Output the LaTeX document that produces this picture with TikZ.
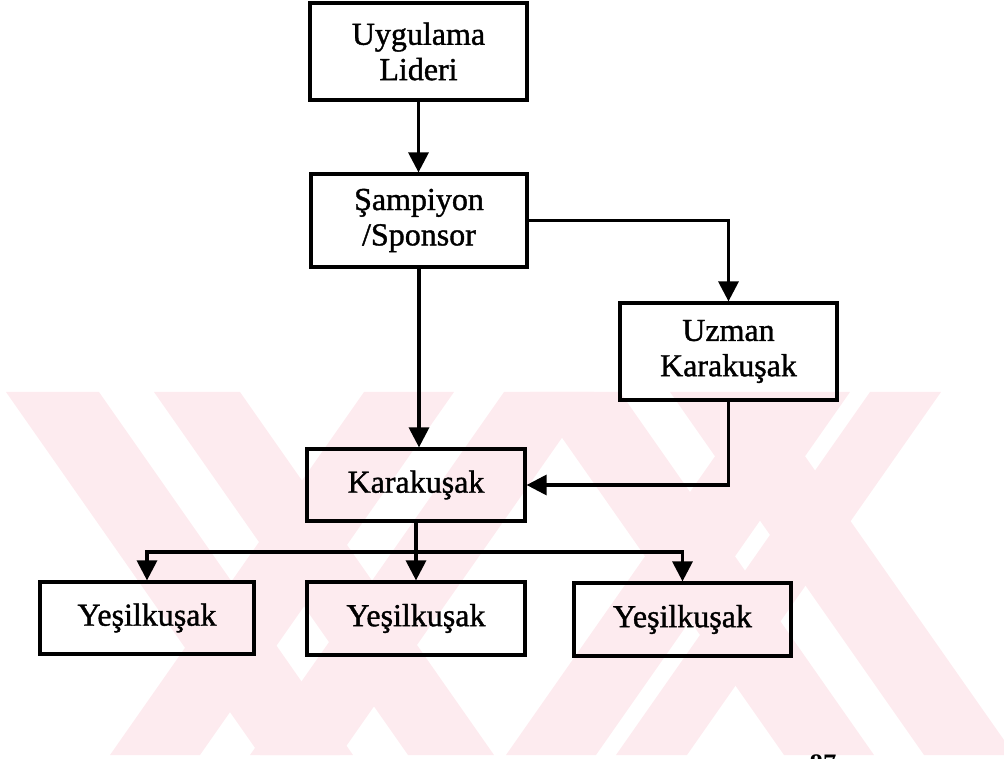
\documentclass[tikz,border=0pt]{standalone}
\usepackage{fontspec}
\setmainfont{Liberation Serif}
\newfontfamily\chartfont{Liberation Serif}[FakeBold=1.2]
\usetikzlibrary{arrows.meta}

\definecolor{wmpink}{RGB}{253,235,239}

\tikzset{
  box/.style={draw=black, line width=2.4pt, align=center, inner sep=0pt,
    font=\chartfont\fontsize{24}{26.5}\selectfont},
  link/.style={draw=black, line width=2.4pt, -{Triangle[length=15pt,width=15pt]}},
  band/.style={fill=wmpink, draw=none}
}

\begin{document}
\begin{tikzpicture}[x=0.75pt,y=-0.75pt]
\useasboundingbox (0,0) rectangle (1004,759);

% background emblem: two crossed pairs of diagonal bands
\fill[band] (6,392) -- (99,392) -- (353,755) -- (260,755) -- cycle;
\fill[band] (154,392) -- (240,392) -- (494,755) -- (408,755) -- cycle;
\fill[band] (364,392) -- (454,392) -- (200,755) -- (110,755) -- cycle;
\fill[band] (504,392) -- (594,392) -- (340,755) -- (250,755) -- cycle;
\fill[band] (530,392) -- (620,392) -- (874,755) -- (784,755) -- cycle;
\fill[band] (670,392) -- (760,392) -- (1004,740) -- (1004,755) -- (924,755) -- cycle;
\fill[band] (760,392) -- (850,392) -- (596,755) -- (506,755) -- cycle;
\fill[band] (870,392) -- (941,392) -- (687,755) -- (616,755) -- cycle;

% organisation chart
\node[box, minimum width=162.75pt, minimum height=72.75pt] (lead) at (418.5,51.5) {Uygulama\\Lideri};
\node[box, minimum width=162pt, minimum height=69.75pt] (champ) at (419,220.5) {Şampiyon\\/Sponsor};
\node[box, minimum width=162.75pt, minimum height=72.75pt] (expert) at (728.5,351.5) {Uzman\\Karakuşak};
\node[box, minimum width=163.5pt, minimum height=54pt] (black) at (416,485) {Karakuşak};
\node[box, minimum width=160.5pt, minimum height=54pt] (green1) at (147,618) {Yeşilkuşak};
\node[box, minimum width=163.5pt, minimum height=54.75pt] (green2) at (416,618.5) {Yeşilkuşak};
\node[box, minimum width=162.75pt, minimum height=54.75pt] (green3) at (682.5,619.5) {Yeşilkuşak};

\coordinate (bus) at (416,552);

\draw[link] (lead.south) -- (lead.south |- champ.north);
\draw[link] (champ.east) -| (expert.north);
\draw[link] (champ.south) -- (champ.south |- black.north);
\draw[link] (expert.south) |- (black.east);
\draw[link] (black.south) -- (black.south |- green2.north);
\draw[link] (bus) -| (green1.north);
\draw[link] (bus) -| (green3.north);

% page number, cut by the lower edge
\node[font=\bfseries\fontsize{20}{20}\selectfont, anchor=north, inner sep=0pt] (pg) at (823,754) {87};
\end{tikzpicture}
\end{document}
